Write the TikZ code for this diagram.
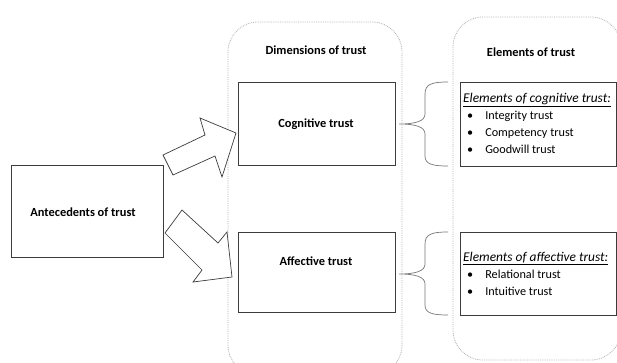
\documentclass[tikz,border=0pt]{standalone}
\usepackage{fontspec}
\setmainfont{Carlito}
\usetikzlibrary{positioning}
\definecolor{boxline}{RGB}{60,60,60}
\definecolor{contline}{RGB}{175,175,175}
\tikzset{
  x=1pt, y=-1pt,
  container/.style={draw=contline, densely dotted, line width=0.8pt, rounded corners=30pt},
  mainbox/.style={draw=boxline, line width=0.8pt},
  title/.style={font=\fontsize{12.4}{14}\selectfont\bfseries, inner sep=0pt},
  elem/.style={font=\fontsize{12.2}{17}\selectfont, align=left, inner sep=0pt, anchor=north west},
  blockarrow/.style={draw=boxline, line width=0.7pt, fill=white, line join=miter},
  bracestyle/.style={draw=boxline!70, line width=0.7pt}
}
\newcommand{\elhead}[1]{{\fontsize{13.4}{17}\selectfont\textit{\underline{#1}}}}
\begin{document}
\begin{tikzpicture}
\useasboundingbox (0,0) rectangle (617,362);
\clip (0,0) rectangle (617,362);
% containers
\draw[container] (228,22) rectangle (402,375);
\draw[container] (453,17) rectangle (621,360);
\node[title] (dimt) at (316,50) {Dimensions of trust};
\node[title] (elt) at (531,52) {Elements of trust};
% boxes
\draw[mainbox] (11,165) rectangle (163,257);
\node[title] (ante) at (83,212) {Antecedents of trust};
\draw[mainbox] (238,82) rectangle (395,165);
\node[title] (cog) at (316,124) {Cognitive trust};
\draw[mainbox] (238,232) rectangle (395,312);
\node[title] (aff) at (316,261) {Affective trust};
\draw[mainbox] (460,82) rectangle (616.5,166);
\node[elem] (cogel) at (463,93) {\elhead{Elements of cognitive trust:}\\
\hspace*{4pt}\textbullet\hspace{12pt}Integrity trust\\
\hspace*{4pt}\textbullet\hspace{12pt}Competency trust\\
\hspace*{4pt}\textbullet\hspace{12pt}Goodwill trust};
\draw[mainbox] (460,232) rectangle (616.5,315);
\node[elem] (affel) at (463,252) {\elhead{Elements of affective trust:}\\
\hspace*{4pt}\textbullet\hspace{12pt}Relational trust\\
\hspace*{4pt}\textbullet\hspace{12pt}Intuitive trust};
% braces
\draw[bracestyle] (448,82) .. controls (432,82) and (425,84) .. (425,94) -- (425,114)
  .. controls (425,121) and (416,124) .. (399,124)
  .. controls (416,124) and (425,127) .. (425,134) -- (425,156)
  .. controls (425,164) and (432,166) .. (448,166);
\draw[bracestyle] (448,232) .. controls (432,232) and (425,234) .. (425,244) -- (425,264)
  .. controls (425,271) and (416,274) .. (399,274)
  .. controls (416,274) and (425,277) .. (425,284) -- (425,305)
  .. controls (425,313) and (432,315) .. (448,315);
% block arrows
\draw[blockarrow] (163,155) -- (205,135) -- (200,118) -- (236,133) -- (222,177) -- (215,156) -- (173,175) -- cycle;
\draw[blockarrow] (182,210) -- (218,243) -- (227,232) -- (232,277) -- (193,282) -- (202,270) -- (165,233) -- cycle;
\end{tikzpicture}
\end{document}
